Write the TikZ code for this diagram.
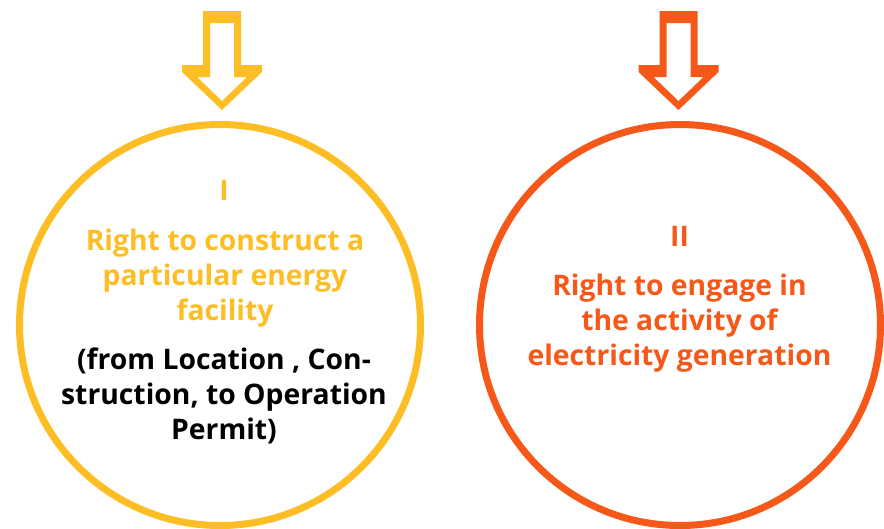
\documentclass[tikz,border=0pt]{standalone}
\usepackage{fontspec}
\setmainfont{Open Sans}
\definecolor{myyellow}{RGB}{253,189,36}
\definecolor{myorange}{RGB}{245,88,24}
\begin{document}
\begin{tikzpicture}[x=1pt,y=-1pt,
  pics/downarrow/.style={code={
    \fill[even odd rule]
      (-19,11) -- (19,11) -- (19,65) -- (40,65) -- (40,72) -- (0,110) -- (-40,72) -- (-40,65) -- (-19,65) -- cycle
      (-12,23) -- (12,23) -- (12,77) -- (25,77) -- (0,101) -- (-25,77) -- (-12,77) -- cycle;
  }},
  ring/.style={circle, line width=7pt, minimum size=401pt, inner sep=0pt},
  txt/.style={font=\bfseries\fontsize{28.3}{35}\selectfont, align=center, anchor=base, inner sep=0pt}
]
\useasboundingbox (0,0) rectangle (884,528);
\pic[myyellow] (a1) at (222,0) {downarrow};
\pic[myorange] (a2) at (678.5,0) {downarrow};
\node[ring, draw=myyellow] (c1) at (220,325) {};
\node[ring, draw=myorange] (c2) at (680,325) {};
\node[txt, text=myyellow] (n1) at (224,200) {I};
\node[txt, text=myyellow] (t1) at (225,320) {Right to construct a\\particular energy\\facility};
\node[txt, text=black] (b1) at (224,439) {(from Location , Con-\\struction, to Operation\\Permit)};
\node[txt, text=myorange] (n2) at (679.5,246.7) {II};
\node[txt, text=myorange] (t2) at (679.5,365.7) {Right to engage in\\the activity of\\electricity generation};
\end{tikzpicture}
\end{document}
